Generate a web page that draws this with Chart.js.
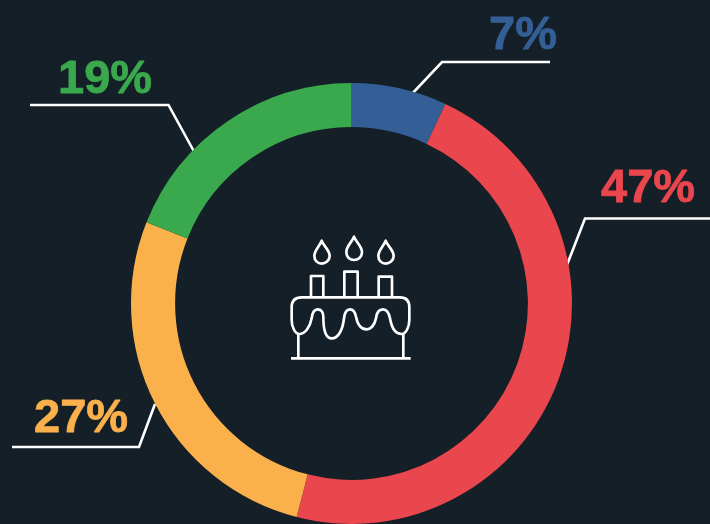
<!DOCTYPE html>
<html>
<head>
<meta charset="utf-8">
<style>
html,body{margin:0;padding:0;background:#151f27;overflow:hidden}
canvas{display:block}
</style>
<script src="https://cdn.jsdelivr.net/npm/chart.js@4"></script>
</head>
<body>
<canvas id="c" width="710" height="524"></canvas>
<script>
const categories = ['A', 'B', 'C', 'D'];
const values = [7, 47, 27, 19];
const colors = ['#345f96', '#ea464d', '#fab14b', '#3aa94d'];
const labelAnchors = [[489, 49], [601, 202], [34, 432], [58, 93]];
const leaders = [
  [[410, 96], [442, 62], [550, 62]],
  [[565, 270], [585, 218.5], [710, 218.5]],
  [[155, 404], [139, 447], [12, 447]],
  [[197, 157], [168.5, 105], [30, 105]]
];

const overlay = {
  id: 'overlay',
  beforeDatasetsDraw(chart) {
    const ctx = chart.ctx;
    ctx.save();
    ctx.strokeStyle = '#ffffff';
    ctx.lineWidth = 2.6;
    ctx.lineJoin = 'miter';
    leaders.forEach(pts => {
      ctx.beginPath();
      pts.forEach((p, i) => i ? ctx.lineTo(p[0], p[1]) : ctx.moveTo(p[0], p[1]));
      ctx.stroke();
    });
    ctx.restore();
  },
  afterDatasetsDraw(chart) {
    const ctx = chart.ctx;
    ctx.save();
    ctx.font = 'bold 47px "Liberation Sans", Arial, sans-serif';
    ctx.textAlign = 'left';
    ctx.textBaseline = 'alphabetic';
    ctx.lineWidth = 0.8;
    ctx.lineJoin = 'round';
    values.forEach((v, i) => {
      ctx.fillStyle = colors[i];
      ctx.strokeStyle = colors[i];
      ctx.fillText(v + '%', labelAnchors[i][0], labelAnchors[i][1]);
      ctx.strokeText(v + '%', labelAnchors[i][0], labelAnchors[i][1]);
    });
    ctx.restore();

    // Cake icon
    ctx.save();
    ctx.translate(270, 220);
    ctx.scale(1 / 3, 1 / 3);
    ctx.strokeStyle = '#ffffff';
    ctx.lineWidth = 8;
    ctx.lineJoin = 'round';
    ctx.stroke(new Path2D(
      'M63,415 L422,415 M85,342 L85,415 M400,342 L400,415 ' +
      'M65,262 Q65,232 95,232 L390,232 Q418,232 418,262 L418,300 ' +
      'C418,320 408,342 395,342 C375,342 365,325 360,295 C356,275 350,268 339,268 ' +
      'C328,268 320,277 318,295 C314,318 300,328 290,328 C272,328 262,310 258,290 ' +
      'C255,276 250,268 240,268 C230,268 224,277 222,295 C218,330 205,355 185,355 ' +
      'C170,355 160,335 160,290 C160,276 153,268 143,268 C133,268 127,277 125,295 ' +
      'C120,322 105,342 88,342 C75,342 65,320 65,300 Z ' +
      'M123,232 L123,168 L160,168 L160,232 M223,232 L223,155 L263,155 L263,232 M326,232 L326,170 L366,170 L366,232 ' +
      'M155,62 C148,80 133,90 133,108 C133,122 144,131 155,131 C166,131 179,122 179,108 C179,90 162,80 155,62 Z ' +
      'M252,50 C245,68 229,78 229,97 C229,111 240,120 252,120 C264,120 276,111 276,97 C276,78 259,68 252,50 Z ' +
      'M347,62 C340,80 325,90 325,108 C325,122 336,131 347,131 C358,131 371,122 371,108 C371,90 354,80 347,62 Z'
    ));
    ctx.restore();
  }
};

new Chart(document.getElementById('c'), {
  type: 'doughnut',
  data: {
    labels: categories,
    datasets: [{ data: values, backgroundColor: colors, borderWidth: 0 }]
  },
  options: {
    responsive: false,
    animation: false,
    cutout: '80%',
    layout: { padding: { left: 131, right: 138, top: 83, bottom: 0 } },
    plugins: { legend: { display: false }, tooltip: { enabled: false } }
  },
  plugins: [overlay]
});
</script>
</body>
</html>
